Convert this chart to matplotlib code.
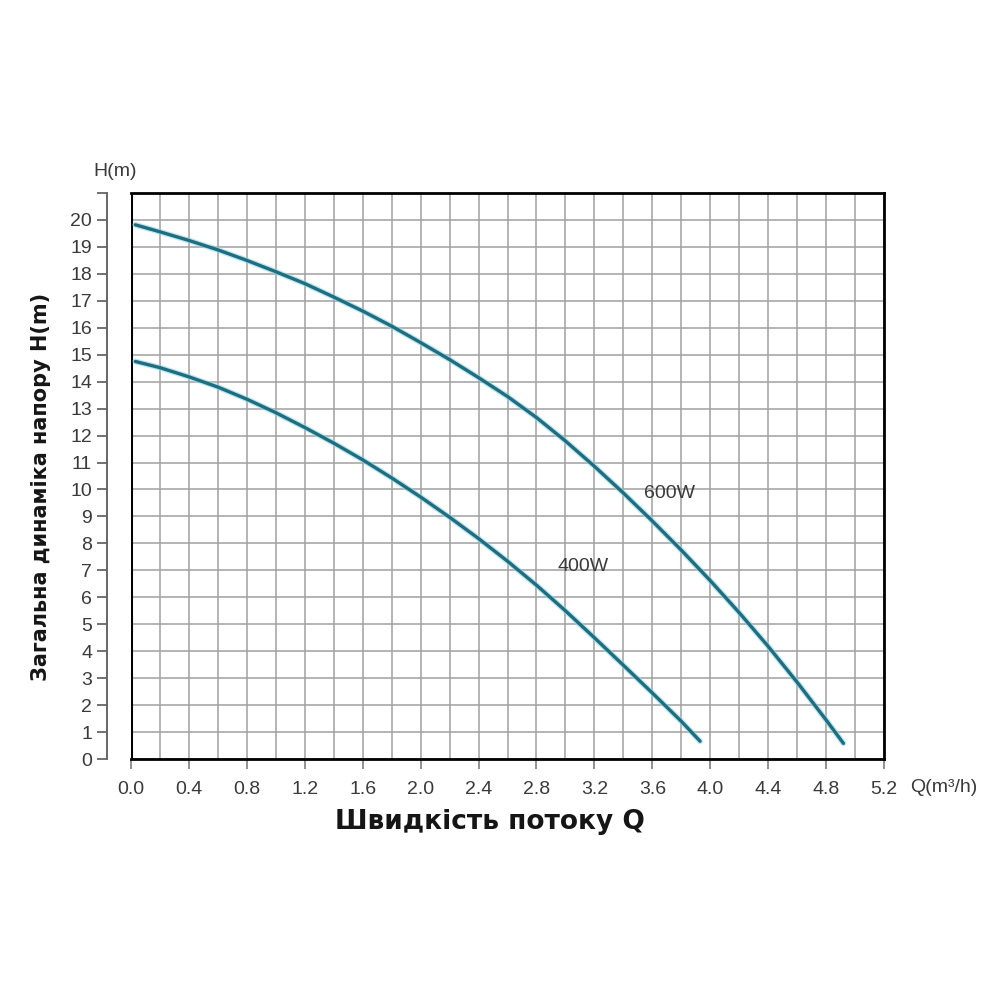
import numpy as np
import matplotlib
matplotlib.use('Agg')
import matplotlib.pyplot as plt
from matplotlib.ticker import MultipleLocator, FuncFormatter

# Крива 600W
q_600 = [0.03, 0.2, 0.4, 0.6, 0.8, 1.0, 1.2, 1.4, 1.6, 1.8, 2.0, 2.2, 2.4,
         2.6, 2.8, 3.0, 3.2, 3.4, 3.6, 3.8, 4.0, 4.2, 4.4, 4.6, 4.8, 4.92]
h_600 = [19.82, 19.56, 19.24, 18.89, 18.5, 18.08, 17.64, 17.14, 16.62, 16.06,
         15.45, 14.82, 14.15, 13.45, 12.67, 11.8, 10.86, 9.87, 8.83, 7.75, 6.62,
         5.43, 4.18, 2.85, 1.45, 0.58]

# Крива 400W
q_400 = [0.03, 0.2, 0.4, 0.6, 0.8, 1.0, 1.2, 1.4, 1.6, 1.8, 2.0, 2.2, 2.4,
         2.6, 2.8, 3.0, 3.2, 3.4, 3.6, 3.8, 3.93]
h_400 = [14.75, 14.52, 14.18, 13.8, 13.35, 12.85, 12.3, 11.72, 11.1, 10.43,
         9.72, 8.97, 8.18, 7.34, 6.45, 5.5, 4.5, 3.48, 2.45, 1.4, 0.66]

curve_labels = ['600W', '400W']
label_pos = [(3.72, 9.85), (3.12, 7.15)]

x_max = 5.2
y_max = 21

LINE_COLOR = '#1f6d7e'
GLOW_COLOR = '#8fd8ea'
GRID_COLOR = '#a0a0a0'
TEXT_COLOR = '#3a3a3a'
TICK_FONT = 'Liberation Sans'

fig = plt.figure(figsize=(10, 10), dpi=100)
ax = fig.add_axes([0.131, 0.241, 0.753, 0.566])

for q, h in [(q_600, h_600), (q_400, h_400)]:
    ax.plot(q, h, color=GLOW_COLOR, lw=4.2, alpha=0.6, solid_capstyle='round',
            solid_joinstyle='round', zorder=3)
    ax.plot(q, h, color=LINE_COLOR, lw=2.4, solid_capstyle='round',
            solid_joinstyle='round', zorder=4)

for text, (tx, ty) in zip(curve_labels, label_pos):
    ax.text(tx, ty, text, fontsize=14, color=TEXT_COLOR, family=TICK_FONT,
            ha='center', va='center', zorder=5)

ax.set_xlim(0, x_max)
ax.set_ylim(0, y_max)

ax.xaxis.set_major_locator(MultipleLocator(0.4))
ax.xaxis.set_minor_locator(MultipleLocator(0.2))
ax.yaxis.set_major_locator(MultipleLocator(1))
ax.xaxis.set_major_formatter(FuncFormatter(lambda v, p: f'{v:.1f}'))
ax.yaxis.set_major_formatter(FuncFormatter(lambda v, p: '' if v > 20.5 else f'{int(round(v))}'))

ax.grid(True, which='both', color=GRID_COLOR, lw=1.1)
ax.set_axisbelow(True)

# рамка
for side in ['top', 'right', 'bottom']:
    ax.spines[side].set_color('black')
    ax.spines[side].set_linewidth(2)
ax.axvline(0, color='black', lw=2.2, zorder=2)

# окрема вісь H зліва
ax.spines['left'].set_position(('outward', 17))
ax.spines['left'].set_color('#666666')
ax.spines['left'].set_linewidth(1.4)

ax.tick_params(axis='y', which='major', direction='out', length=7, width=1.3,
               color='#666666', labelsize=14, labelcolor=TEXT_COLOR, pad=4)
ax.tick_params(axis='x', which='major', direction='out', length=7, width=1.3,
               color='#888888', labelsize=14, labelcolor=TEXT_COLOR, pad=9)
ax.tick_params(axis='x', which='minor', length=0)
for lbl in ax.get_xticklabels() + ax.get_yticklabels():
    lbl.set_family(TICK_FONT)

fig.text(0.093, 0.828, 'H(m)', fontsize=14, color=TEXT_COLOR, family=TICK_FONT,
         ha='left', va='center')
fig.text(0.910, 0.213, 'Q(m³/h)', fontsize=14, color=TEXT_COLOR, family=TICK_FONT,
         ha='left', va='center')

fig.text(0.49, 0.178, 'Швидкість потоку Q', fontsize=19, fontweight='bold',
         color='#151515', ha='center', va='center')
fig.text(0.041, 0.513, 'Загальна динаміка напору H(m)', fontsize=15,
         fontweight='bold', color='#151515', rotation=90, ha='center', va='center')

plt.savefig('out.png', dpi=100)
plt.close()
